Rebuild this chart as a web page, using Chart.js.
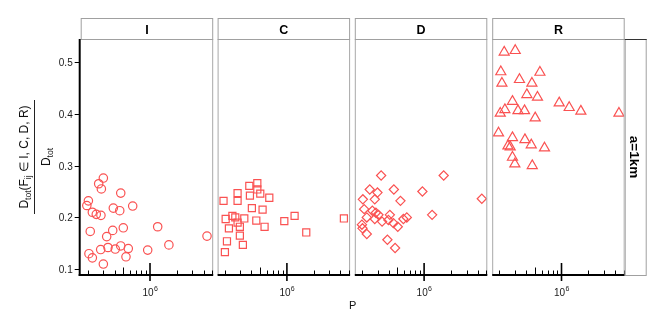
<!DOCTYPE html>
<html>
<head>
<meta charset="utf-8">
<script src="https://cdn.jsdelivr.net/npm/chart.js@4.4.0/dist/chart.umd.min.js"></script>
<style>
html, body { margin: 0; padding: 0; background: #fff; }
#wrap { position: relative; width: 664px; height: 324px; overflow: hidden; font-family: "Liberation Sans", Arial, sans-serif; }
#wrap canvas { position: absolute; left: 0; top: 0; }
#ytitle { position: absolute; left: -27px; top: 139px; width: 124px; height: 36px; transform: rotate(-90deg); color: #111; }
#ytitle .num, #ytitle .den { position: absolute; left: 0; width: 100%; text-align: center; font-size: 12px; line-height: 14px; white-space: nowrap; }
#ytitle .num { top: 0; }
#ytitle .den { top: 22px; }
#ytitle .bar { position: absolute; top: 17px; left: 5px; width: 114px; height: 1px; background: #222; }
#ytitle sub { font-size: 8.5px; vertical-align: -3px; line-height: 0; }
</style>
</head>
<body>
<div id="wrap">
  <canvas id="c0" width="664" height="324"></canvas>
  <canvas id="c1" width="664" height="324"></canvas>
  <canvas id="c2" width="664" height="324"></canvas>
  <canvas id="c3" width="664" height="324"></canvas>
  <div id="ytitle">
    <div class="num">D<sub>tot</sub>(F<sub>ij</sub> ∈ I, C, D, R)</div>
    <div class="bar"></div>
    <div class="den">D<sub>tot</sub></div>
  </div>
</div>
<script>
// facets
const panels = ['I', 'C', 'D', 'R'];
const shapes = ['circle', 'rect', 'rectRot', 'triangle'];
const yTicks = [0.1, 0.2, 0.3, 0.4, 0.5];
const xMinorTicks = [2e5, 3e5, 4e5, 5e5, 6e5, 7e5, 8e5, 9e5, 2e6, 3e6, 4e6, 5e6];
const xMajorTicks = [1e6];

// P and D_tot share per facet
const pI = [299000, 265000, 284000, 469000, 203000, 195000, 387000, 457000, 639000, 225000,
            249000, 281000, 213000, 381000, 501000, 326000, 1220000, 4370000, 1630000, 206000,
            225000, 279000, 337000, 407000, 469000, 570000, 537000, 942000, 299000];
const dI = [0.276, 0.265, 0.255, 0.247, 0.232, 0.223, 0.218, 0.213, 0.222, 0.210,
            0.206, 0.204, 0.173, 0.175, 0.180, 0.163, 0.182, 0.164, 0.147, 0.130,
            0.122, 0.138, 0.142, 0.139, 0.145, 0.140, 0.124, 0.137, 0.110];

const pC = [378000, 465000, 465000, 279000, 384000, 502000, 634000, 194000, 279000, 404000,
            533000, 205000, 244000, 263000, 279000, 332000, 453000, 296000, 223000, 561000,
            935000, 1220000, 1650000, 4370000, 296000, 212000, 320000, 201000];
const dC = [0.261, 0.266, 0.254, 0.247, 0.242, 0.246, 0.238, 0.232, 0.232, 0.218,
            0.215, 0.197, 0.203, 0.200, 0.190, 0.198, 0.194, 0.182, 0.179, 0.182,
            0.193, 0.203, 0.171, 0.198, 0.165, 0.154, 0.147, 0.133];

const pD = [329000, 1660000, 245000, 299000, 457000, 957000, 4450000, 205000, 279000, 542000,
            212000, 262000, 287000, 307000, 412000, 1230000, 639000, 585000, 227000, 279000,
            337000, 397000, 452000, 506000, 200000, 203000, 227000, 387000, 472000];
const dD = [0.281, 0.281, 0.254, 0.248, 0.254, 0.250, 0.236, 0.235, 0.235, 0.232,
            0.216, 0.213, 0.209, 0.205, 0.205, 0.205, 0.200, 0.197, 0.200, 0.197,
            0.192, 0.195, 0.189, 0.182, 0.186, 0.179, 0.168, 0.157, 0.141];

const pR = [227000, 302000, 208000, 572000, 214000, 337000, 465000, 408000, 537000, 281000,
            942000, 1220000, 1650000, 4420000, 231000, 205000, 324000, 384000, 506000, 196000,
            281000, 388000, 457000, 644000, 250000, 265000, 281000, 299000, 469000];
const dR = [0.519, 0.522, 0.481, 0.480, 0.459, 0.466, 0.459, 0.437, 0.432, 0.424,
            0.421, 0.412, 0.405, 0.401, 0.408, 0.401, 0.406, 0.406, 0.392, 0.363,
            0.354, 0.350, 0.340, 0.334, 0.338, 0.336, 0.316, 0.303, 0.300];

const pVals = [pI, pC, pD, pR];
const dVals = [dI, dC, dD, dR];

const panelLeft = [80.7, 217.6, 354.8, 492.2];
const panelW = 132.5;
const plotTop = 39, plotBottom = 275;
const markColor = 'rgb(250, 82, 82)';
const radii = [4.2, 5, 4.6, 5.8];
const fontFam = '"Liberation Sans", Arial, sans-serif';

const facetPlugin = {
    id: 'facet',
    afterDraw(chart, args, opts) {
        const ctx = chart.ctx;
        const {left, right, top, bottom} = chart.chartArea;
        const xs = chart.scales.x, ys = chart.scales.y;
        const i = opts.index;
        ctx.save();

        // panel side borders
        ctx.strokeStyle = '#a8a8a8';
        ctx.lineWidth = 1;
        ctx.beginPath();
        if (i > 0) { ctx.moveTo(left + 0.5, top); ctx.lineTo(left + 0.5, bottom); }
        ctx.moveTo(right - 0.5, top); ctx.lineTo(right - 0.5, bottom);
        ctx.stroke();

        // strip on top
        ctx.fillStyle = '#fff';
        ctx.fillRect(left, 18, right - left, top - 18);
        ctx.strokeStyle = '#a0a0a0';
        ctx.strokeRect(left + 0.5, 18.5, right - left - 1, top - 18);
        ctx.fillStyle = '#000';
        ctx.font = 'bold 12.5px ' + fontFam;
        ctx.textAlign = 'center';
        ctx.textBaseline = 'alphabetic';
        ctx.fillText(opts.label, (left + right) / 2, 34);

        // bottom axis line
        ctx.strokeStyle = '#000';
        ctx.lineWidth = 2;
        ctx.beginPath();
        ctx.moveTo(left - (i === 0 ? 2 : 0), bottom);
        ctx.lineTo(right, bottom);
        ctx.stroke();

        // x ticks
        ctx.lineWidth = 1;
        xMinorTicks.forEach(v => {
            const px = Math.round(xs.getPixelForValue(v)) + 0.5;
            const len = (v === 5e5) ? 7.5 : 4.5;
            ctx.beginPath();
            ctx.moveTo(px, bottom);
            ctx.lineTo(px, bottom - len);
            ctx.stroke();
        });
        ctx.lineWidth = 1.6;
        xMajorTicks.forEach(v => {
            const px = xs.getPixelForValue(v);
            ctx.beginPath();
            ctx.moveTo(px, bottom - 12);
            ctx.lineTo(px, bottom + 6);
            ctx.stroke();
            ctx.fillStyle = '#1a1a1a';
            ctx.font = '10px ' + fontFam;
            ctx.textAlign = 'left';
            const exp = String(Math.round(Math.log10(v)));
            const w10 = ctx.measureText('10').width;
            ctx.font = '7px ' + fontFam;
            const wE = ctx.measureText(exp).width;
            const x0 = px - (w10 + wE) / 2;
            ctx.font = '10px ' + fontFam;
            ctx.fillText('10', x0, 295.7);
            ctx.font = '7px ' + fontFam;
            ctx.fillText(exp, x0 + w10 + 0.3, 290.5);
        });

        if (i === 0) {
            // left axis line and y ticks
            ctx.strokeStyle = '#000';
            ctx.lineWidth = 2;
            ctx.beginPath();
            ctx.moveTo(left - 1, top);
            ctx.lineTo(left - 1, bottom + 1);
            ctx.stroke();
            ctx.lineWidth = 1;
            ctx.fillStyle = '#1a1a1a';
            ctx.font = '10px ' + fontFam;
            ctx.textAlign = 'right';
            ctx.textBaseline = 'alphabetic';
            yTicks.forEach(v => {
                const py = Math.round(ys.getPixelForValue(v)) + 0.5;
                ctx.beginPath();
                ctx.moveTo(left - 6, py);
                ctx.lineTo(left - 1, py);
                ctx.stroke();
                ctx.fillText(v.toFixed(1), left - 8, py + 3.6);
            });
            // x axis title
            ctx.textAlign = 'center';
            ctx.font = '11px ' + fontFam;
            ctx.fillStyle = '#111';
            ctx.fillText('P', (panelLeft[0] + panelLeft[3] + panelW) / 2, 308.5);
        }

        if (i === panels.length - 1) {
            // right strip
            const sx = right, sw = 21;
            ctx.fillStyle = '#fff';
            ctx.fillRect(sx, top, sw, bottom - top);
            ctx.strokeStyle = '#a0a0a0';
            ctx.lineWidth = 1;
            ctx.strokeRect(sx + 0.5, top + 0.5, sw, bottom - top);
            ctx.strokeStyle = '#333';
            ctx.beginPath();
            ctx.moveTo(sx, top + 0.5);
            ctx.lineTo(sx + sw + 1, top + 0.5);
            ctx.stroke();
            ctx.translate(sx + sw / 2 - 1, (top + bottom) / 2);
            ctx.rotate(Math.PI / 2);
            ctx.fillStyle = '#000';
            ctx.font = 'bold 13.5px ' + fontFam;
            ctx.textAlign = 'center';
            ctx.textBaseline = 'middle';
            ctx.fillText('a=1km', 0, 0);
        }
        ctx.restore();
    }
};

panels.forEach((label, i) => {
    const ctx = document.getElementById('c' + i).getContext('2d');
    const left = panelLeft[i];
    new Chart(ctx, {
        type: 'scatter',
        data: {
            datasets: [{
                label: label,
                data: pVals[i].map((p, k) => ({x: p, y: dVals[i][k]})),
                pointStyle: shapes[i],
                pointRadius: radii[i],
                borderColor: markColor,
                backgroundColor: 'rgba(0,0,0,0)',
                borderWidth: 1.2
            }]
        },
        options: {
            responsive: false,
            animation: false,
            events: [],
            layout: {
                padding: {left: left, right: 664 - left - panelW, top: plotTop, bottom: 324 - plotBottom}
            },
            scales: {
                x: {type: 'logarithmic', min: 166400, max: 5130000, display: false},
                y: {type: 'linear', min: 0.0889, max: 0.5444, display: false}
            },
            plugins: {
                legend: {display: false},
                tooltip: {enabled: false},
                facet: {label: label, index: i}
            }
        },
        plugins: [facetPlugin]
    });
});
</script>
</body>
</html>
